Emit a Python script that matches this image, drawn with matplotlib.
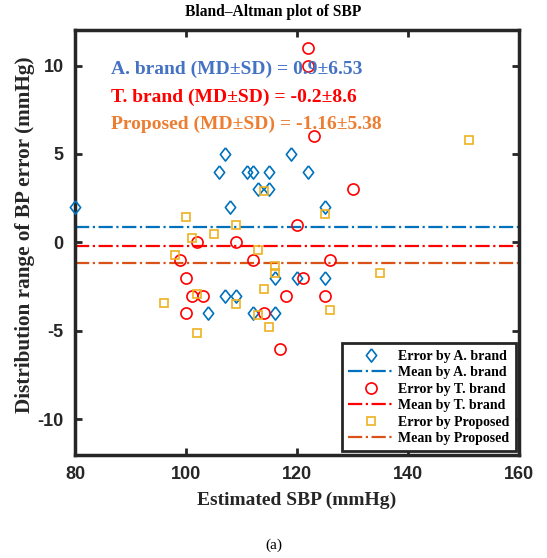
import numpy as np
import matplotlib.pyplot as plt

plt.rcParams["axes.unicode_minus"] = False

# Bland-Altman data: estimated SBP (mmHg) vs. BP error (mmHg)
a_sbp = [80, 107, 106, 111, 112, 115, 119, 122, 113, 115, 108, 125,
         116, 120, 125, 107, 109, 104, 112, 116]
a_err = [2, 5, 4, 4, 4, 4, 5, 4, 3, 3, 2, 2,
         -2, -2, -2, -3, -3, -4, -4, -4]

t_sbp = [122, 122, 123, 130, 120, 102, 109, 99, 112, 126,
         100, 121, 101, 103, 118, 125, 100, 114, 117]
t_err = [11, 10, 6, 3, 1, 0, 0, -1, -1, -1,
         -2, -2, -3, -3, -3, -3, -4, -4, -6]

p_sbp = [100, 109, 105, 101, 98, 113, 116, 116, 114, 114,
         102, 96, 109, 113, 115, 102, 125, 126, 151, 135]
p_err = [1.44, 1.0, 0.5, 0.24, -0.7, -0.43, -1.33, -1.7, 2.9, -2.64,
         -2.92, -3.4, -3.5, -4.1, -4.8, -5.1, 1.6, -3.8, 5.8, -1.7]

md = {"A": 0.9, "T": -0.2, "P": -1.16}
sd = {"A": 6.53, "T": 8.6, "P": 5.38}

serif = "Liberation Serif"
sans = "Liberation Sans"
dark = "#262626"

# taller-than-wide diamond, like MATLAB's 'd'
diamond = [(0, 1), (0.78, 0), (0, -1), (-0.78, 0), (0, 1)]

fig = plt.figure(figsize=(5.47, 5.58), dpi=100)
ax = fig.add_axes([0.137, 0.185, 0.812, 0.761])

mk = dict(linestyle="none", markerfacecolor="none", markeredgewidth=1.2, zorder=3)
ax.plot(a_sbp, a_err, marker=diamond, markersize=9.5, color="#0072BD",
        label="Error by A. brand", clip_on=False, **mk)
ax.axhline(md["A"], color="#0072BD", linestyle="-.", linewidth=1.6, label="Mean by A. brand")
ax.plot(t_sbp, t_err, marker="o", markersize=8, color="red", label="Error by T. brand", **mk)
ax.axhline(md["T"], color="red", linestyle="-.", linewidth=1.6, label="Mean by T. brand")
ax.plot(p_sbp, p_err, marker="s", markersize=6, color="#EDB120", label="Error by Proposed", **mk)
ax.axhline(md["P"], color="#D95319", linestyle="-.", linewidth=1.6, label="Mean by Proposed")

ax.set_xlim(80, 160)
ax.set_ylim(-12, 12)
ax.set_xticks([80, 100, 120, 140, 160])
ax.set_yticks([-10, -5, 0, 5, 10])
ax.tick_params(direction="in", length=5, width=2, top=True, right=True,
               colors=dark, labelsize=13, pad=8)
for lab in ax.get_xticklabels() + ax.get_yticklabels():
    lab.set_family(sans)
    lab.set_fontweight("bold")
for s in ax.spines.values():
    s.set_linewidth(2.5)
    s.set_color(dark)

ax.set_xlabel("Estimated SBP (mmHg)", family=serif, fontweight="bold",
              fontsize=14, color=dark, labelpad=6)
ax.set_ylabel("Distribution range of BP error (mmHg)", family=serif,
              fontweight="bold", fontsize=15.3, color=dark)
ax.yaxis.set_label_coords(-0.09, 0.518)
fig.text(0.5, 0.978, "Bland\u2013Altman plot of SBP", family=serif, fontweight="bold",
         fontsize=11.2, color="black", ha="center", va="center")

txt = dict(family=serif, fontweight="bold", fontsize=14, va="center", ha="left")
ax.text(86.5, 9.8, f"A. brand (MD\u00b1SD) = {md['A']}\u00b1{sd['A']}", color="#4472C4", **txt)
ax.text(86.5, 8.2, f"T. brand (MD\u00b1SD) = {md['T']}\u00b1{sd['T']}", color="red", **txt)
ax.text(86.5, 6.7, f"Proposed (MD\u00b1SD) = {md['P']}\u00b1{sd['P']}", color="#ED7D31", **txt)

leg = ax.legend(loc="lower right", prop={"family": serif, "weight": "bold", "size": 10},
                fancybox=False, edgecolor=dark, framealpha=1, borderaxespad=0.25,
                handlelength=3.3, labelspacing=0.25, borderpad=0.45, handletextpad=0.3)
leg.get_frame().set_linewidth(2)

fig.text(0.5, 0.023, "(a)", family=serif, fontsize=11, ha="center", va="center")

fig.savefig("out.png", dpi=100)
